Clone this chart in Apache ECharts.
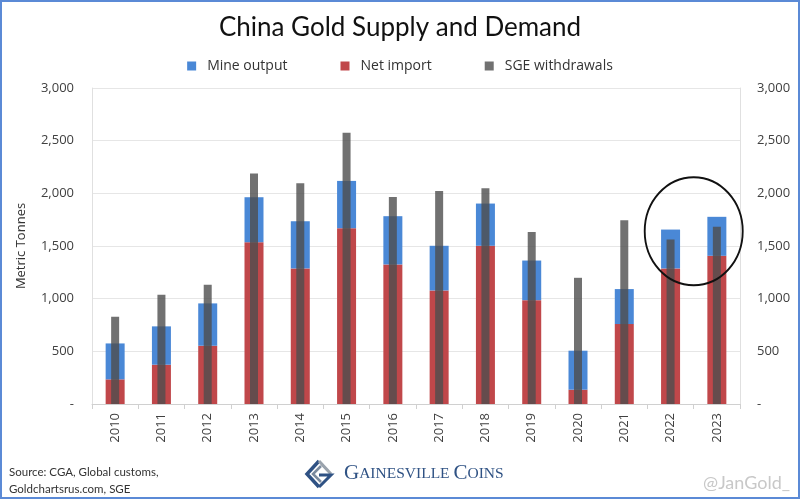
<!DOCTYPE html>
<html>
<head>
<meta charset="utf-8">
<script src="https://cdn.jsdelivr.net/npm/echarts@6/dist/echarts.min.js"></script>
<style>
html,body{margin:0;padding:0;background:#fff;}
#chart{width:800px;height:499px;}
</style>
</head>
<body>
<div id="chart"></div>
<script>
const years = ['2010','2011','2012','2013','2014','2015','2016','2017','2018','2019','2020','2021','2022','2023'];
const mineOutput = [341, 364, 402, 427, 448, 449, 458, 424, 401, 376, 370, 332, 369, 370];
const netImport = [234, 373, 553, 1536, 1287, 1669, 1325, 1078, 1502, 986, 136, 759, 1287, 1407];
const sgeWithdrawals = [828, 1037, 1132, 2188, 2096, 2576, 1966, 2023, 2048, 1634, 1198, 1745, 1562, 1682];
const yTicks = [0, 500, 1000, 1500, 2000, 2500, 3000];

const chart = echarts.init(document.getElementById('chart'));
const fmt = v => v === 0 ? '-' : v.toLocaleString('en-US');
const axisFont = {color:'#404040', fontSize:13, fontFamily:'Open Sans'};

const option = {
  backgroundColor:'#fff',
  animation:false,
  title:{
    text:'China Gold Supply and Demand',
    left:'center', top:10,
    textStyle:{fontFamily:'Lato', fontWeight:'normal', fontSize:26, color:'#111'}
  },
  legend:{
    top:54, left:'center',
    itemWidth:9, itemHeight:9, itemGap:53,
    icon:'rect',
    data:['Mine output','Net import','SGE withdrawals'],
    textStyle:{fontFamily:'Open Sans', fontSize:14, color:'#333', padding:[0,0,0,6]}
  },
  grid:{left:92, right:60, top:88, bottom:95},
  xAxis:[
    {
      type:'category', data:years,
      axisLine:{lineStyle:{color:'#d0d0d0'}},
      axisTick:{show:true, length:5, lineStyle:{color:'#d0d0d0'}},
      axisLabel:Object.assign({rotate:90, margin:9}, axisFont)
    },
    {type:'category', data:years, show:false}
  ],
  yAxis:[
    {
      type:'value', min:yTicks[0], max:yTicks[yTicks.length-1], interval:500,
      name:'Metric Tonnes', nameLocation:'middle', nameGap:64,
      nameTextStyle:{fontFamily:'Open Sans', fontSize:13, color:'#333'},
      axisLine:{show:true, lineStyle:{color:'#e0e0e0'}},
      axisTick:{show:false},
      splitLine:{lineStyle:{color:'#e6e6e6'}},
      axisLabel:Object.assign({formatter:fmt, margin:18}, axisFont)
    },
    {
      type:'value', min:yTicks[0], max:yTicks[yTicks.length-1], interval:500,
      position:'right',
      axisLine:{show:true, lineStyle:{color:'#e0e0e0'}},
      axisTick:{show:false},
      splitLine:{show:false},
      axisLabel:Object.assign({formatter:fmt, margin:17}, axisFont)
    }
  ],
  series:[
    {
      name:'Net import', type:'bar', stack:'supply', data:netImport,
      barWidth:19, itemStyle:{color:'#c0474a'}
    },
    {
      name:'Mine output', type:'bar', stack:'supply', data:mineOutput,
      barWidth:19, itemStyle:{color:'#4a88d6'}
    },
    {
      name:'SGE withdrawals', type:'bar', data:sgeWithdrawals, xAxisIndex:1,
      barWidth:8, itemStyle:{color:'rgba(78,78,78,0.8)'}, z:5
    }
  ]
};
chart.setOption(option);

// Annotation ellipse around the last two years
const p1 = chart.convertToPixel({xAxisIndex:0, yAxisIndex:0}, ['2022', 1640]);
const p2 = chart.convertToPixel({xAxisIndex:0, yAxisIndex:0}, ['2023', 1640]);
const cx = (p1[0] + p2[0]) / 2, cy = p1[1];

chart.setOption({
  graphic:[
    {type:'rect', shape:{x:1, y:1, width:798, height:497}, style:{fill:null, stroke:'#5b8ad6', lineWidth:2}, z:100},
    {type:'circle', shape:{cx:0, cy:0, r:50}, x:cx, y:cy, scaleX:0.98, scaleY:1.08,
     style:{fill:null, stroke:'#111', lineWidth:1.9}, z:50},
    {type:'text', left:9, top:464,
     style:{text:'Source: CGA, Global customs,\nGoldchartsrus.com, SGE', fontFamily:'Lato', fontSize:11.5, lineHeight:17, fill:'#333'}},
    {type:'text', right:10, top:474,
     style:{text:'@JanGold_', fontFamily:'Lato', fontSize:18, fill:'#c8c8c8'}},
    // logo icon
    {type:'group', x:319, y:474, children:[
      {type:'polyline', shape:{points:[[0,-13],[-12,0],[0,13]]}, style:{stroke:'#2f5284', lineWidth:3.5, fill:null}},
      {type:'polyline', shape:{points:[[2,-8],[-6,0],[2,8]]}, style:{stroke:'#7a8a9e', lineWidth:2.5, fill:null}},
      {type:'polyline', shape:{points:[[0,-13],[12,0]]}, style:{stroke:'#9aa3ad', lineWidth:3, fill:null}},
      {type:'polyline', shape:{points:[[3,-9],[9,-3]]}, style:{stroke:'#9aa3ad', lineWidth:2, fill:null}},
      {type:'polyline', shape:{points:[[0,1],[12,1],[0,13]]}, style:{stroke:'#2f5284', lineWidth:3, fill:null}}
    ]},
    {type:'text', left:344, top:463,
     style:{
       rich:{
         big:{fontFamily:'Liberation Serif', fontSize:21, fill:'#2f5284'},
         small:{fontFamily:'Liberation Serif', fontSize:15.5, fill:'#2f5284'}
       },
       text:'{big|G}{small|AINESVILLE }{big|C}{small|OINS}'
     }}
  ]
});
</script>
</body>
</html>
